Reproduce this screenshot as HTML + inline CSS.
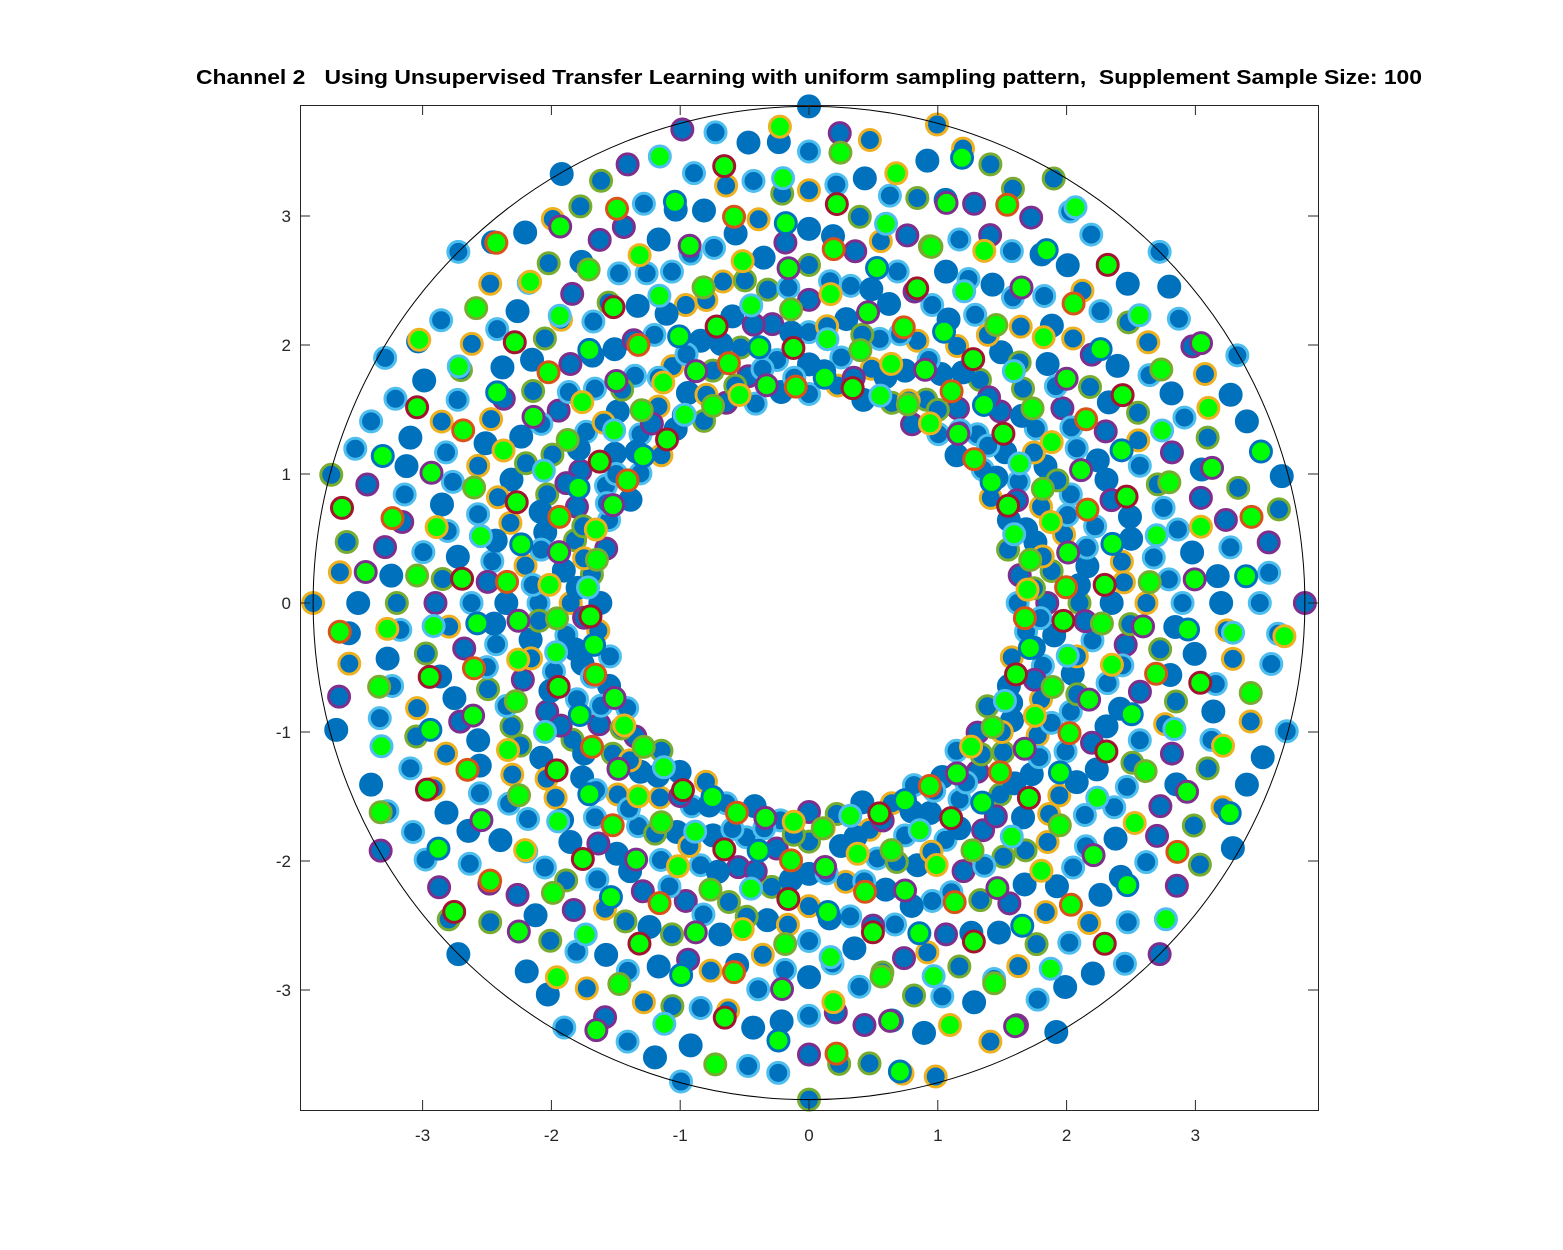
<!DOCTYPE html>
<html><head><meta charset="utf-8"><style>
html,body{margin:0;padding:0;background:#fff;}
svg{display:block;font-family:"Liberation Sans",Arial,sans-serif;}
</style></head><body>
<svg id="chart" width="1563" height="1250" viewBox="0 0 1563 1250">
<rect x="0" y="0" width="1563" height="1250" fill="#fff"/>
<text x="809" y="84" text-anchor="middle" font-size="20" font-weight="bold" fill="#000" style="white-space:pre" textLength="1226" lengthAdjust="spacingAndGlyphs">Channel 2   Using Unsupervised Transfer Learning with uniform sampling pattern,  Supplement Sample Size: 100</text>
<g id="marks"></g>
<rect x="300.5" y="105.5" width="1018" height="1005" fill="none" stroke="#262626" stroke-width="1"/>
<g id="axes"></g>
</svg>
<script>
const xTicks=[-3,-2,-1,0,1,2,3];
const yTicks=[3,2,1,0,-1,-2,-3];
const circleRadius=[3.85];
const spokeAngles=[0,7.5,15,22.5,30,37.5,45,52.5,60,67.5,75,82.5,90,97.5,105,112.5,120,127.5,135,142.5,150,157.5,165,172.5,180,187.5,195,202.5,210,217.5,225,232.5,240,247.5,255,262.5,270,277.5,285,292.5,300,307.5,315,322.5,330,337.5,345,352.5];
const blueRadii=[
[1.62,1.85,2.1,2.35,2.62,2.9,3.2,3.5,3.85],
[1.65,1.9,2.18,2.45,2.7,3.0,3.3,3.6],
[1.6,1.82,2.05,2.3,2.58,2.85,3.15,3.45,3.8],
[1.68,1.95,2.2,2.5,2.78,3.05,3.35,3.68],
[1.63,1.88,2.12,2.4,2.66,2.95,3.25,3.55,3.84],
[1.7,1.92,2.22,2.48,2.75,3.02,3.32,3.62]];
const greenAngleShift=[3.5];
const greenRadii=[
[1.7,2.0,2.3,2.65,3.0,3.4],
[1.75,2.05,2.4,2.75,3.1,3.5],
[1.68,1.98,2.28,2.6,2.95,3.3,3.7],
[1.72,2.02,2.35,2.7,3.05,3.45],
[1.7,1.96,2.26,2.58,2.92,3.28,3.65]];
const extraAngleShift=[-3.75];
const extraRadii=[
[1.8,2.15,2.5,2.85,3.25,3.65],
[1.75,2.1,2.45,2.8,3.18,3.58],
[1.85,2.2,2.55,2.92,3.3,3.72],
[1.78,2.12,2.48,2.86,3.22]];
const blueEdges=["#4DBEEE","#7E2F8E","#77AC30","#0072BD","#EDB120","#4DBEEE","#0072BD"];
const greenEdges=["#EDB120","#D95319","#A2142F","#77AC30","#7E2F8E","#0072BD","#4DBEEE"];

const X0=809,Y0=603,SX=128.8,SY=129;
const xs=v=>X0+v*SX, ys=v=>Y0-v*SY;
const NS="http://www.w3.org/2000/svg";
const marks=document.getElementById('marks');
const axes=document.getElementById('axes');

function dot(x,y,fill,edge,name){
  const c=document.createElementNS(NS,'circle');
  c.setAttribute('cx',xs(x));c.setAttribute('cy',ys(y));c.setAttribute('r',10.5);
  c.setAttribute('fill',fill);c.setAttribute('stroke',edge);c.setAttribute('stroke-width',3);
  
  
  marks.appendChild(c);
}
function layer(shift,rows,fill,edges,mult,name){
  spokeAngles.forEach((a,i)=>{
    rows[i%rows.length].forEach((r,j)=>{
      const t=(a+shift)*Math.PI/180;
      dot(r*Math.cos(t),r*Math.sin(t),fill,edges[(i*mult+j)%7],name);
    });
  });
}
layer(0,blueRadii,"#0072BD",blueEdges,1,'blue-point');
layer(extraAngleShift[0],extraRadii,"#0072BD",blueEdges,2,'blue-point-extra');
layer(greenAngleShift[0],greenRadii,"#00FF00",greenEdges,3,'green-point');

const circ=document.createElementNS(NS,'ellipse');
circ.setAttribute('cx',xs(0));circ.setAttribute('cy',ys(0));
circ.setAttribute('rx',circleRadius[0]*SX);circ.setAttribute('ry',circleRadius[0]*SY);
circ.setAttribute('fill','none');circ.setAttribute('stroke','#000');circ.setAttribute('stroke-width',1);


marks.appendChild(circ);

xTicks.forEach(v=>{
  const x=xs(v);
  const l=document.createElementNS(NS,'path');
  l.setAttribute('d',`M${x} 1110V1100M${x} 105V115`);l.setAttribute('stroke','#262626');
  
  
  axes.appendChild(l);
  const t=document.createElementNS(NS,'text');
  t.setAttribute('x',x);t.setAttribute('y',1141);t.setAttribute('text-anchor','middle');
  t.setAttribute('font-size','17');t.setAttribute('fill','#262626');t.textContent=v;
  
  
  axes.appendChild(t);
});
yTicks.forEach(v=>{
  const y=ys(v);
  const l=document.createElementNS(NS,'path');
  l.setAttribute('d',`M300 ${y}H310M1318 ${y}H1308`);l.setAttribute('stroke','#262626');
  
  
  axes.appendChild(l);
  const t=document.createElementNS(NS,'text');
  t.setAttribute('x',291);t.setAttribute('y',y+6);t.setAttribute('text-anchor','end');
  t.setAttribute('font-size','17');t.setAttribute('fill','#262626');t.textContent=v;
  
  
  axes.appendChild(t);
});
</script>
</body></html>
